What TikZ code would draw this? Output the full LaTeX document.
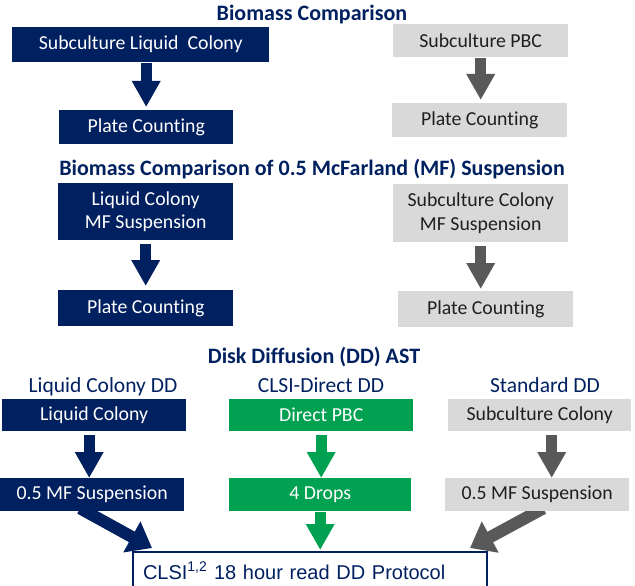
\documentclass[tikz,border=0pt]{standalone}
\usepackage{fontspec}
\setmainfont{Carlito}[Ligatures={NoCommon}]
\newfontfamily\arialf{Liberation Sans}
\usetikzlibrary{arrows.meta,backgrounds}
\definecolor{navy}{HTML}{002060}
\definecolor{pgreen}{HTML}{00A251}
\definecolor{lgray}{HTML}{D9D9D9}
\definecolor{dgray}{HTML}{595959}
\begin{document}
\begin{tikzpicture}[x=1pt,y=-1pt,
  box/.style={rectangle, inner sep=0pt, anchor=north west, align=center,
    font=\fontsize{19.8}{23.5}\selectfont},
  nbox/.style={box, fill=navy, text=white},
  gbox/.style={box, fill=lgray, text=black!88},
  grbox/.style={box, fill=pgreen, text=white},
  title/.style={font=\bfseries\fontsize{22}{26}\selectfont, text=navy, anchor=base, inner sep=0pt},
  sublabel/.style={font=\fontsize{21.5}{26}\selectfont, text=navy, anchor=base, inner sep=0pt},
  barrow/.style={draw=#1, line width=11pt, -{Triangle[length=26pt,width=27pt]}},
  darrow/.style={draw=#1, line width=12pt, -{Triangle[length=23pt,width=34pt]}}
]
\useasboundingbox (0,0) rectangle (635,586);

% ---------- Section 1 ----------
\node[title] (t1) at (312,21) {Biomass Comparison};
\node[nbox, minimum width=257pt, minimum height=35pt] (b1) at (12,27) {Subculture Liquid\ \ Colony};
\node[nbox, minimum width=174pt, minimum height=34pt] (b2) at (59,110) {Plate Counting};
\node[gbox, minimum width=175pt, minimum height=33pt] (g1) at (393,24) {Subculture PBC};
\node[gbox, minimum width=175pt, minimum height=34pt] (g2) at (392,103) {Plate Counting};

% ---------- Section 2 ----------
\node[title] (t2) at (312,175) {Biomass Comparison of 0.5 McFarland (MF) Suspension};
\node[nbox, minimum width=175pt, minimum height=57pt] (b3) at (58,183) {Liquid Colony\\MF Suspension};
\node[nbox, minimum width=175pt, minimum height=36pt] (b4) at (58,290) {Plate Counting};
\node[gbox, minimum width=175pt, minimum height=58pt] (g3) at (393,184) {Subculture Colony\\MF Suspension};
\node[gbox, minimum width=175pt, minimum height=36pt] (g4) at (398,291) {Plate Counting};

% ---------- Section 3 ----------
\node[title] (t3) at (314,363) {Disk Diffusion (DD) AST};
\node[sublabel] (l1) at (103,392) {Liquid Colony DD};
\node[sublabel] (l2) at (321,392) {CLSI-Direct DD};
\node[sublabel] (l3) at (545,392) {Standard DD};

\node[nbox, minimum width=184pt, minimum height=32pt] (n1) at (2,399) {Liquid Colony};
\node[grbox, minimum width=184pt, minimum height=32pt] (c1) at (229,399) {Direct PBC};
\node[gbox, minimum width=183pt, minimum height=32pt] (s1) at (448,399) {Subculture Colony};

\node[nbox, minimum width=184pt, minimum height=33pt] (n2) at (0,478) {0.5 MF Suspension};
\node[grbox, minimum width=182pt, minimum height=33pt] (c2) at (229,478) {4 Drops};
\node[gbox, minimum width=184pt, minimum height=33pt] (s2) at (445,478) {0.5 MF Suspension};

\node[draw=navy, line width=2pt, fill=white, anchor=north west,
  minimum width=354pt, minimum height=39pt, inner xsep=10pt,
  text width=334pt, align=left, text height=15pt, text depth=0pt,
  font=\arialf\fontsize{20}{24}\selectfont, text=navy] (bot) at (132,551)
  {CLSI\textsuperscript{1,2} 18 hour read DD Protocol};

% ---------- Arrows ----------
\begin{scope}[on background layer]
  \draw[barrow=navy, shorten <=1pt, shorten >=3pt] (b2.north |- b1.south) -- (b2.north);
  \draw[barrow=dgray, shorten <=1pt, shorten >=3pt] (g1.south) -- (g1.south |- g2.north);
  \draw[barrow=navy, shorten <=4pt, shorten >=4pt] (b3.south) -- (b4.north);
  \draw[barrow=dgray, shorten <=4pt, shorten >=2pt] (g3.south) -- (g3.south |- g4.north);

  \draw[barrow=navy, shorten <=4pt] ([xshift=-5pt]n1.south) -- ([xshift=-5pt]n1.south |- n2.north);
  \draw[barrow=pgreen, shorten <=4pt] (c1.south) -- (c1.south |- c2.north);
  \draw[barrow=dgray, shorten <=4pt] ([xshift=12pt]s1.south) -- ([xshift=12pt]s1.south |- s2.north);

  \draw[darrow=navy] ([xshift=-12pt,yshift=3pt]n2.south) -- ([xshift=20pt,yshift=3pt]bot.north west);
  \draw[barrow=pgreen, shorten <=1pt, shorten >=1pt] (c2.south) -- (c2.south |- bot.north);
  \draw[darrow=dgray] ([xshift=6pt,yshift=3pt]s2.south) -- ([xshift=-18pt,yshift=3pt]bot.north east);
\end{scope}
\end{tikzpicture}
\end{document}
